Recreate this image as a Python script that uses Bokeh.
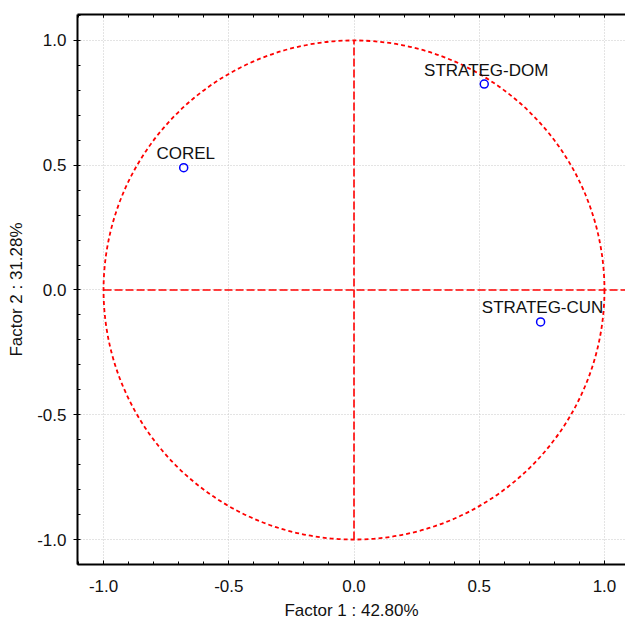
from bokeh.plotting import figure
from bokeh.models import ColumnDataSource, FixedTicker, LinearAxis, Range1d
from bokeh.core.properties import value
from bokeh.embed import file_html
from bokeh.resources import INLINE

# data
variables = ["COREL", "STRATEG-DOM", "STRATEG-CUN"]
factor1 = [-0.68, 0.52, 0.745]
factor2 = [0.49, 0.825, -0.128]
tick_values = [-1.0, -0.5, 0.0, 0.5, 1.0]
tick_labels = ["-1.0", "-0.5", "0.0", "0.5", "1.0"]
minor_values = [round(-1.1 + 0.1 * i, 1) for i in range(23)]
x_title = "Factor 1 : 42.80%"
y_title = "Factor 2 : 31.28%"

FONT = "Liberation Sans"
FS = "17px"

p = figure(width=625, height=622, output_backend="svg", toolbar_location=None,
           x_range=Range1d(-1.104, 1.084), y_range=Range1d(-1.1, 1.104),
           min_border_left=77, min_border_right=0, min_border_top=14, min_border_bottom=56,
           x_axis_label=x_title, y_axis_label=y_title)
p.outline_line_color = None
p.background_fill_color = "white"
p.border_fill_color = "white"

ticker = FixedTicker(ticks=tick_values, minor_ticks=minor_values)
overrides = {v: l for v, l in zip(tick_values, tick_labels)}

for ax in [p.xaxis[0], p.yaxis[0]]:
    ax.ticker = ticker
    ax.major_label_overrides = overrides
    ax.major_label_text_font = FONT
    ax.major_label_text_font_size = FS
    ax.major_label_text_color = "#111111"
    ax.axis_label_text_font = FONT
    ax.axis_label_text_font_size = FS
    ax.axis_label_text_font_style = "normal"
    ax.axis_label_text_color = "#111111"
    ax.axis_line_color = "black"
    ax.axis_line_width = 2
    ax.major_tick_line_color = "black"
    ax.minor_tick_line_color = "black"

p.xaxis.major_tick_in = 4
p.xaxis.major_tick_out = 0
p.xaxis.minor_tick_in = 3
p.xaxis.minor_tick_out = 0
p.xaxis.major_label_standoff = 15
p.xaxis.axis_label_standoff = 6

p.yaxis.major_tick_in = 0
p.yaxis.major_tick_out = 4
p.yaxis.minor_tick_in = 3
p.yaxis.minor_tick_out = 0
p.yaxis.major_label_standoff = 7
p.yaxis.axis_label_standoff = 8

top = LinearAxis(ticker=ticker, major_label_overrides={v: "" for v in tick_values},
                 major_tick_in=3, major_tick_out=0, minor_tick_in=3, minor_tick_out=0,
                 axis_line_width=2, axis_line_color="black", major_label_standoff=0)
p.add_layout(top, "above")

for g in [p.xgrid[0], p.ygrid[0]]:
    g.ticker = FixedTicker(ticks=tick_values)
    g.grid_line_color = "#c8c8c8"
    g.grid_line_dash = "1 2"
    g.grid_line_width = 1

# unit circle
p.ellipse(x=0, y=0, width=2, height=2, fill_color=None, line_color="red",
          line_width=1.8, line_dash="4 3")
# cross lines
p.segment(x0=[-1.0, 0.0], y0=[0.0, -1.0], x1=[1.1, 0.0], y1=[0.0, 1.0],
          line_color="red", line_width=1.6, line_dash="8 3")

src = ColumnDataSource(dict(x=factor1, y=factor2, name=variables))
p.scatter("x", "y", source=src, size=8, fill_color=None, line_color="blue", line_width=1.5)
p.text("x", "y", text="name", source=src, text_align="center", text_baseline="alphabetic",
       x_offset=2, y_offset=-14, text_font=value(FONT), text_font_size=FS, text_color="#111111")

open("out.html", "w").write(file_html(p, INLINE))
